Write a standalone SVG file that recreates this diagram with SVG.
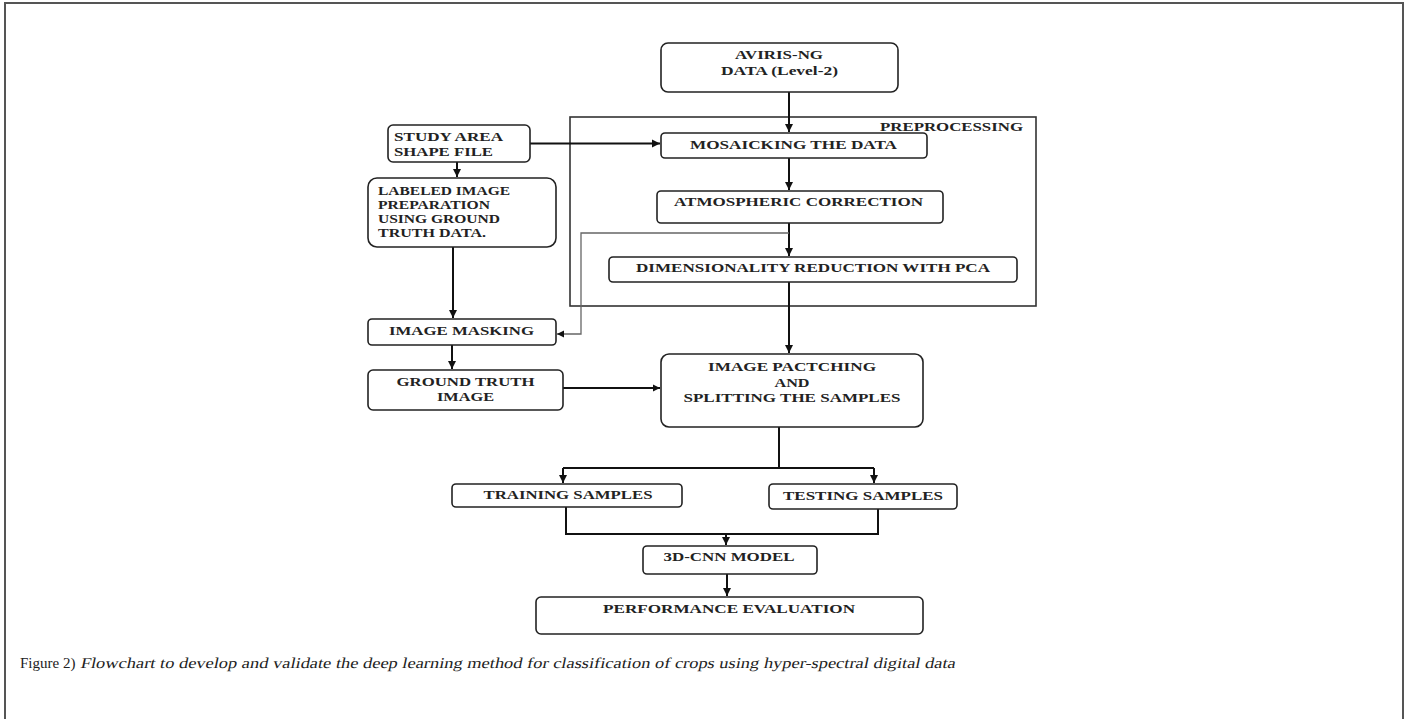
<svg xmlns="http://www.w3.org/2000/svg" width="1411" height="719" viewBox="0 0 1411 719">
<defs>
<marker id="ah" markerUnits="userSpaceOnUse" markerWidth="9" markerHeight="9" refX="8" refY="4.5" orient="auto">
<path d="M0,0.5 L8,4.5 L0,8.5 z" fill="#111"/>
</marker>
<marker id="ahs" markerUnits="userSpaceOnUse" markerWidth="8" markerHeight="8" refX="7" refY="4" orient="auto">
<path d="M0,0.5 L7,4 L0,7.5 z" fill="#111"/>
</marker>
</defs>
<style>
.box{fill:#fff;stroke:#222;stroke-width:1.6}
.frame{fill:none;stroke:#333;stroke-width:1.6}
.t{font-family:"Liberation Serif","Times New Roman",serif;font-weight:bold;font-size:13px;fill:#222}
.c{text-anchor:middle}
.con{fill:none;stroke:#111;stroke-width:2}
.fb{fill:none;stroke:#666;stroke-width:1.3}
.cap{font-family:"Liberation Serif","Times New Roman",serif;font-size:15px;fill:#222}
</style>
<rect width="1411" height="719" fill="#fff"/>
<path d="M5,719 V3 H1403 V719" fill="none" stroke="#555" stroke-width="2"/>

<g id="preprocessing">
<rect class="frame" x="570" y="117" width="466" height="189"/>
<text class="t" x="880" y="130.7" textLength="143" lengthAdjust="spacingAndGlyphs">PREPROCESSING</text>
</g>

<g id="connectors">
<path class="con" d="M789,92 V132" marker-end="url(#ah)"/>
<path class="con" d="M530,143.5 H660" marker-end="url(#ah)"/>
<path class="con" d="M789,158 V190" marker-end="url(#ah)"/>
<path class="con" d="M789,223 V256" marker-end="url(#ah)"/>
<path class="fb" d="M789,233 H581 V334 H557" marker-end="url(#ahs)"/>
<path class="con" d="M789,282 V353" marker-end="url(#ah)"/>
<path class="con" d="M457,162 V177" marker-end="url(#ah)"/>
<path class="con" d="M453,247 V318" marker-end="url(#ah)"/>
<path class="con" d="M452,345 V369" marker-end="url(#ah)"/>
<path class="con" d="M563,388 H660" marker-end="url(#ahs)"/>
<path class="con" d="M779,427 V468"/>
<path class="con" d="M563,468 H874"/>
<path class="con" d="M563,468 V483" marker-end="url(#ah)"/>
<path class="con" d="M874,468 V483" marker-end="url(#ah)"/>
<path class="con" d="M566,507 V534 H878 V509"/>
<path class="con" d="M726,534 V545" marker-end="url(#ah)"/>
<path class="con" d="M727,574 V596" marker-end="url(#ah)"/>
</g>

<g id="aviris">
<rect class="box" x="661" y="43" width="237" height="49" rx="7"/>
<text class="t c" x="779" y="58.5" textLength="88" lengthAdjust="spacingAndGlyphs">AVIRIS-NG</text>
<text class="t c" x="779.5" y="75" textLength="117" lengthAdjust="spacingAndGlyphs">DATA (Level-2)</text>
</g>
<g id="mosaicking">
<rect class="box" x="661" y="133" width="266" height="25" rx="4"/>
<text class="t c" x="793.5" y="149.3" textLength="207" lengthAdjust="spacingAndGlyphs">MOSAICKING THE DATA</text>
</g>
<g id="atmospheric">
<rect class="box" x="657" y="191" width="286" height="32" rx="4"/>
<text class="t c" x="798.5" y="206" textLength="249" lengthAdjust="spacingAndGlyphs">ATMOSPHERIC CORRECTION</text>
</g>
<g id="dimensionality">
<rect class="box" x="609" y="257" width="408" height="25" rx="4"/>
<text class="t c" x="813" y="271.7" textLength="354" lengthAdjust="spacingAndGlyphs">DIMENSIONALITY REDUCTION WITH PCA</text>
</g>
<g id="study-area">
<rect class="box" x="388" y="125" width="142" height="37" rx="5"/>
<text class="t" x="394" y="141" textLength="109" lengthAdjust="spacingAndGlyphs">STUDY AREA</text>
<text class="t" x="394" y="155.7" textLength="99" lengthAdjust="spacingAndGlyphs">SHAPE FILE</text>
</g>
<g id="labeled">
<rect class="box" x="368" y="178" width="188" height="69" rx="9"/>
<text class="t" x="378" y="194.7" textLength="132" lengthAdjust="spacingAndGlyphs">LABELED IMAGE</text>
<text class="t" x="378" y="209" textLength="112" lengthAdjust="spacingAndGlyphs">PREPARATION</text>
<text class="t" x="378" y="223.3" textLength="122" lengthAdjust="spacingAndGlyphs">USING GROUND</text>
<text class="t" x="378" y="237.3" textLength="108" lengthAdjust="spacingAndGlyphs">TRUTH DATA.</text>
</g>
<g id="masking">
<rect class="box" x="368" y="319" width="188" height="26" rx="4"/>
<text class="t c" x="461.5" y="335" textLength="145" lengthAdjust="spacingAndGlyphs">IMAGE MASKING</text>
</g>
<g id="ground-truth">
<rect class="box" x="368" y="370" width="195" height="40" rx="5"/>
<text class="t c" x="465.5" y="385.7" textLength="138" lengthAdjust="spacingAndGlyphs">GROUND TRUTH</text>
<text class="t c" x="465.5" y="401" textLength="57" lengthAdjust="spacingAndGlyphs">IMAGE</text>
</g>
<g id="patching">
<rect class="box" x="661" y="354" width="262" height="73" rx="8"/>
<text class="t c" x="792" y="371" textLength="168" lengthAdjust="spacingAndGlyphs">IMAGE PACTCHING</text>
<text class="t c" x="792" y="386.7" textLength="35" lengthAdjust="spacingAndGlyphs">AND</text>
<text class="t c" x="792" y="402.3" textLength="217" lengthAdjust="spacingAndGlyphs">SPLITTING THE SAMPLES</text>
</g>
<g id="training">
<rect class="box" x="452" y="484" width="230" height="23" rx="4"/>
<text class="t c" x="568" y="499.3" textLength="169" lengthAdjust="spacingAndGlyphs">TRAINING SAMPLES</text>
</g>
<g id="testing">
<rect class="box" x="769" y="484" width="188" height="25" rx="4"/>
<text class="t c" x="863" y="500" textLength="160" lengthAdjust="spacingAndGlyphs">TESTING SAMPLES</text>
</g>
<g id="cnn">
<rect class="box" x="643" y="546" width="174" height="28" rx="4"/>
<text class="t c" x="729" y="560.7" textLength="131" lengthAdjust="spacingAndGlyphs">3D-CNN MODEL</text>
</g>
<g id="performance">
<rect class="box" x="536" y="597" width="387" height="37" rx="5"/>
<text class="t c" x="729" y="612.7" textLength="252" lengthAdjust="spacingAndGlyphs">PERFORMANCE EVALUATION</text>
</g>

<g id="caption">
<text class="cap" x="20" y="668">Figure 2)</text>
<text class="cap" transform="translate(80,668) skewX(-12)" x="0" y="0" textLength="875" lengthAdjust="spacingAndGlyphs">Flowchart to develop and validate the deep learning method for classification of crops using hyper-spectral digital data</text>
</g>
</svg>
